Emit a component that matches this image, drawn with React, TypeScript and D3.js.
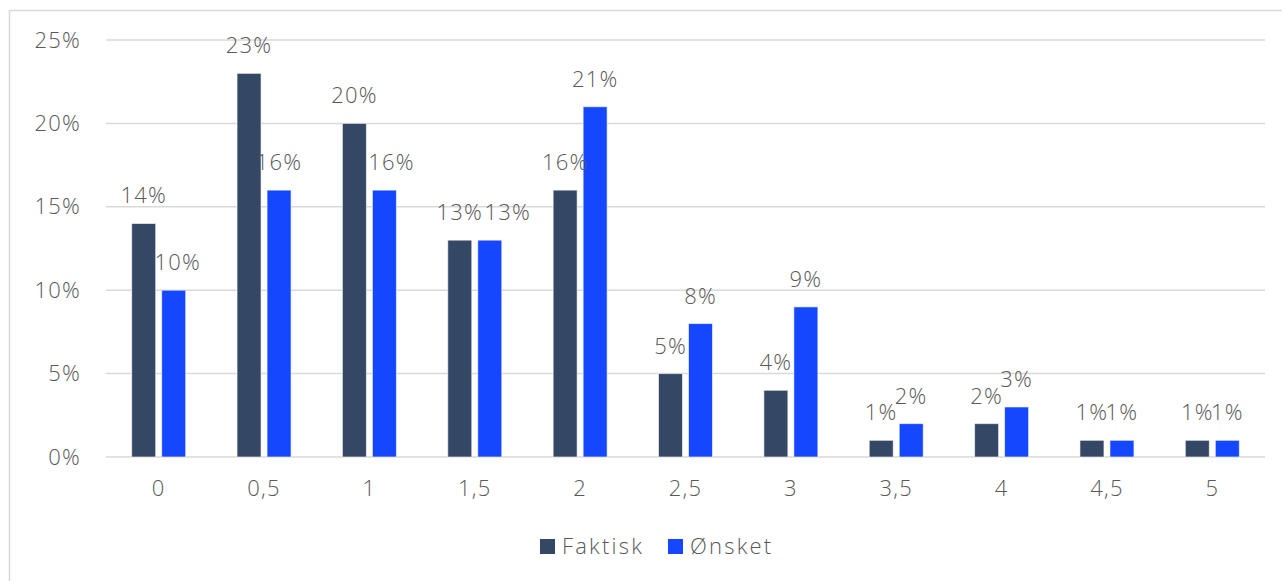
import React, { useEffect, useRef } from 'react';
import * as d3 from 'd3';

const categories = ['0', '0,5', '1', '1,5', '2', '2,5', '3', '3,5', '4', '4,5', '5'];
const seriesNames = ['Faktisk', 'Ønsket'];
const faktisk = [14, 23, 20, 13, 16, 5, 4, 1, 2, 1, 1];
const onsket = [10, 16, 16, 13, 21, 8, 9, 2, 3, 1, 1];
const yTicks = [0, 5, 10, 15, 20, 25];
const colors = ['#344866', '#1447ff'];

// small nudges the original applied to crowded Ønsket labels (px)
const onsketLabelNudge: Record<string, number> = { '0': 4, '1': 7, '1,5': 18 };

const W = 1282;
const H = 581;

export default function App() {
  const svgRef = useRef<SVGSVGElement | null>(null);

  // plot area
  const margin = { top: 40, right: 17, bottom: 124, left: 106 };
  const width = W - margin.left - margin.right;
  const height = H - margin.top - margin.bottom;

  useEffect(() => {
    const root = d3.select(svgRef.current);
    root.selectAll('*').remove();

    const font = '"Open Sans", Lato, sans-serif';
    const textColor = '#595959';
    const styleText = (sel: any) =>
      sel
        .attr('font-family', font)
        .attr('font-size', 22)
        .attr('font-weight', 300)
        .attr('letter-spacing', 1.2)
        .attr('fill', textColor);

    // outer chart frame (runs off the page on right/bottom)
    root
      .append('rect')
      .attr('x', 9.5)
      .attr('y', 10.5)
      .attr('width', W + 20)
      .attr('height', H + 20)
      .attr('fill', 'none')
      .attr('stroke', '#d9d9d9')
      .attr('stroke-width', 1.5);

    const svg = root.append('g').attr('transform', `translate(${margin.left}, ${margin.top})`);

    const x0 = d3.scaleBand<string>().domain(categories).range([0, width]).padding(0);
    const step = x0.step();
    const x1 = d3
      .scaleBand<string>()
      .domain(seriesNames)
      .range([(step - 54) / 2, (step + 54) / 2])
      .paddingInner(0.2);
    const y = d3.scaleLinear().domain([0, 25]).range([height, 0]);

    // horizontal grid
    svg
      .append('g')
      .selectAll('line')
      .data(yTicks)
      .join('line')
      .attr('x1', 0)
      .attr('x2', width)
      .attr('y1', (d) => y(d))
      .attr('y2', (d) => y(d))
      .attr('stroke', '#d9d9d9')
      .attr('stroke-width', 1.5);

    // y axis labels
    svg
      .append('g')
      .call(d3.axisLeft(y).tickValues(yTicks).tickSize(0).tickPadding(25).tickFormat((d) => `${d}%`))
      .call((g) => g.select('.domain').remove())
      .selectAll('text')
      .call(styleText);

    // x axis labels
    svg
      .append('g')
      .attr('transform', `translate(0, ${height})`)
      .call(d3.axisBottom(x0).tickSize(0).tickPadding(23))
      .call((g) => g.select('.domain').remove())
      .selectAll('text')
      .call(styleText);

    const rows = categories.map((c, i) => ({ cat: c, values: [faktisk[i], onsket[i]] }));

    const groups = svg
      .selectAll('.grp')
      .data(rows)
      .join('g')
      .attr('class', 'grp')
      .attr('transform', (d) => `translate(${x0(d.cat)}, 0)`);

    groups
      .selectAll('rect')
      .data((d) => d.values.map((v, j) => ({ key: seriesNames[j], v, j })))
      .join('rect')
      .attr('x', (d) => x1(d.key) || 0)
      .attr('y', (d) => y(d.v))
      .attr('width', x1.bandwidth())
      .attr('height', (d) => height - y(d.v))
      .attr('fill', (d) => colors[d.j])
      .attr('stroke', '#ffffff')
      .attr('stroke-opacity', 0.6)
      .attr('stroke-width', 1);

    groups
      .selectAll('text')
      .data((d) => d.values.map((v, j) => ({ key: seriesNames[j], v, j, cat: d.cat })))
      .join('text')
      .attr(
        'x',
        (d) =>
          (x1(d.key) || 0) + x1.bandwidth() / 2 + (d.j === 1 ? onsketLabelNudge[d.cat] || 0 : 0),
      )
      .attr('y', (d) => y(d.v) - 20)
      .attr('text-anchor', 'middle')
      .call(styleText)
      .text((d) => `${d.v}%`);

    // legend
    const legend = root.append('g').attr('transform', 'translate(540, 539)');
    const items = [
      { name: 'Faktisk', x: 0 },
      { name: 'Ønsket', x: 128 },
    ];
    items.forEach((it, i) => {
      legend
        .append('rect')
        .attr('x', it.x)
        .attr('y', 0)
        .attr('width', 15)
        .attr('height', 15)
        .attr('fill', colors[i]);
      legend
        .append('text')
        .attr('x', it.x + 22)
        .attr('y', 15)
        .call(styleText)
        .attr('letter-spacing', 2.2)
        .text(it.name);
    });
  });

  return (
    <svg
      ref={svgRef}
      width={W}
      height={H}
      style={{ position: 'absolute', left: 0, top: 0, background: '#fff' }}
    ></svg>
  );
}
